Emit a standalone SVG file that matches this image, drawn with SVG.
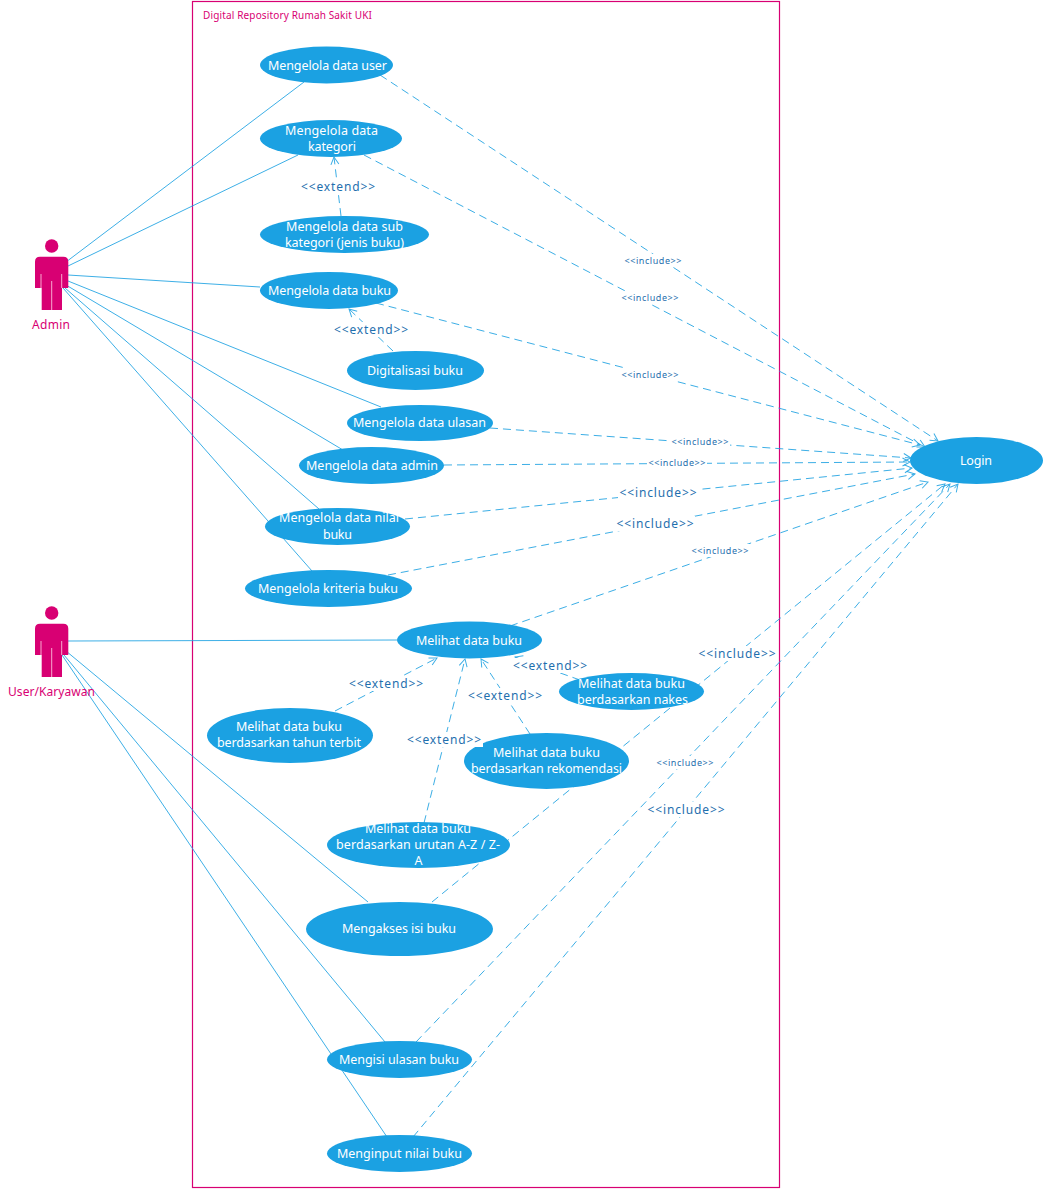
<svg xmlns="http://www.w3.org/2000/svg" width="1045" height="1189" viewBox="0 0 1045 1189">
<style>
text{font-family:"Noto Sans","Open Sans","Liberation Sans",sans-serif}
.b{fill:none;stroke:#d80073;stroke-width:1.2}
.t{font-size:10px;fill:#d80073}
.al{font-size:12px;fill:#d80073;text-anchor:middle}
.a{fill:#d80073;stroke:none}
.g{stroke:#f7a8cf;stroke-width:1;fill:none}
.u{fill:#1ba1e2;stroke:none}
.ut{font-size:12.5px;fill:#fff;text-anchor:middle}
.s{stroke:#1ba1e2;stroke-width:1;fill:none;opacity:.85}
.d{stroke:#1ba1e2;stroke-width:1;fill:none;stroke-dasharray:8 5;opacity:.85;marker-end:url(#o)}
.bg{fill:#fff}
.l{font-size:12px;fill:#1f6fae;text-anchor:middle}
.m{font-size:9px;fill:#1f6fae;text-anchor:middle}
</style>
<defs>
<marker id="o" markerUnits="userSpaceOnUse" markerWidth="14" markerHeight="14" refX="12" refY="7" orient="auto"><path d="M4.5 3L12 7L4.5 11" fill="none" stroke="#1ba1e2" stroke-width="1"/></marker>
<path id="actor" d="M40 -8.3H63.3Q68.3 -8.3 68.3 -3.3V23H62V45H41.7V23H35V-3.3Q35 -8.3 40 -8.3Z"/>
<path id="actor-lines" d="M41 9V23M61.7 9V23M51.7 16V45"/>
</defs>
<rect id="boundary" class="b" x="192.5" y="1.5" width="587" height="1186"/>
<text class="t" x="203" y="19" textLength="169">Digital Repository Rumah Sakit UKI</text>
<g id="connectors">
<path class="s" d="M66 262L304 82"/>
<path class="s" d="M68 266L298 155"/>
<path class="s" d="M68 275L260 287"/>
<path class="s" d="M68 281L381 407"/>
<path class="s" d="M66 285L343 450"/>
<path class="s" d="M65 288L319 509"/>
<path class="s" d="M63 288L312 571"/>
<path class="s" d="M68 641L397 640"/>
<path class="s" d="M66 651L368 902"/>
<path class="s" d="M64 655L385 1042"/>
<path class="s" d="M62 655L387 1137"/>
<path class="d" d="M380 75L938 441"/>
<path class="d" d="M364 155L925 447"/>
<path class="d" d="M376 303L920 445"/>
<path class="d" d="M490 428L911 458"/>
<path class="d" d="M444 465L910 462"/>
<path class="d" d="M405 519L912 468"/>
<path class="d" d="M388 575L915 474"/>
<path class="d" d="M510 626L928 482"/>
<path class="d" d="M432 902L945 484"/>
<path class="d" d="M416 1042L950 484"/>
<path class="d" d="M413 1137L958 484"/>
<path class="d" d="M341 216L334 157"/>
<path class="d" d="M393 351L349 309"/>
<path class="d" d="M335 711L437 658"/>
<path class="d" d="M424 823L465 659"/>
<path class="d" d="M530 734L481 659"/>
<path class="d" d="M580 680L515 657"/>
</g>
<g id="actor-admin"><circle class="a" cx="51.7" cy="246" r="6.7"/><use href="#actor" class="a" y="265"/><use href="#actor-lines" class="g" y="265"/><text class="al" x="51" y="329" textLength="38">Admin</text></g>
<g id="actor-user"><circle class="a" cx="51.7" cy="613" r="6.7"/><use href="#actor" class="a" y="632"/><use href="#actor-lines" class="g" y="632"/><text class="al" x="51.5" y="696" textLength="87">User/Karyawan</text></g>
<g id="uc-user"><ellipse class="u" cx="326.5" cy="65" rx="66.5" ry="18.5"/><text class="ut" x="327.5" y="69.5" textLength="119">Mengelola data user</text></g>
<g id="uc-kategori"><ellipse class="u" cx="331" cy="138.5" rx="71" ry="18.5"/><text class="ut" x="331.5" y="135" textLength="93">Mengelola data</text><text class="ut" x="332" y="151" textLength="48">kategori</text></g>
<g id="uc-sub"><ellipse class="u" cx="344.5" cy="234.5" rx="84.5" ry="18.5"/><text class="ut" x="344.5" y="231" textLength="117">Mengelola data sub</text><text class="ut" x="344.5" y="247" textLength="119">kategori (jenis buku)</text></g>
<g id="uc-buku"><ellipse class="u" cx="329" cy="290.5" rx="69" ry="18.5"/><text class="ut" x="329.5" y="295" textLength="123">Mengelola data buku</text></g>
<g id="uc-digital"><ellipse class="u" cx="415.5" cy="370.5" rx="68.5" ry="19.5"/><text class="ut" x="415" y="375" textLength="96">Digitalisasi buku</text></g>
<g id="uc-ulasan"><ellipse class="u" cx="420" cy="423" rx="73" ry="18"/><text class="ut" x="419.5" y="427" textLength="133">Mengelola data ulasan</text></g>
<g id="uc-admin"><ellipse class="u" cx="371.5" cy="465.5" rx="72.5" ry="18.5"/><text class="ut" x="372" y="470" textLength="132">Mengelola data admin</text></g>
<g id="uc-nilai"><ellipse class="u" cx="337.5" cy="526.5" rx="72.5" ry="18.5"/><text class="ut" x="339" y="522" textLength="120">Mengelola data nilai</text><text class="ut" x="337.5" y="539" textLength="29">buku</text></g>
<g id="uc-kriteria"><ellipse class="u" cx="328.5" cy="588.5" rx="83.5" ry="18.5"/><text class="ut" x="328" y="593" textLength="140">Mengelola kriteria buku</text></g>
<g id="uc-melihat"><ellipse class="u" cx="469.5" cy="640" rx="72.5" ry="18.5"/><text class="ut" x="469" y="644.5" textLength="106">Melihat data buku</text></g>
<g id="uc-nakes"><ellipse class="u" cx="631.5" cy="691.5" rx="72.5" ry="18.5"/><text class="ut" x="631.5" y="688" textLength="107">Melihat data buku</text><text class="ut" x="632.5" y="704" textLength="111">berdasarkan nakes</text></g>
<g id="uc-tahun"><ellipse class="u" cx="290" cy="735.5" rx="83" ry="27.5"/><text class="ut" x="289" y="731" textLength="106">Melihat data buku</text><text class="ut" x="289" y="747" textLength="144">berdasarkan tahun terbit</text></g>
<g id="uc-rekomendasi"><ellipse class="u" cx="546.5" cy="761" rx="82.5" ry="28"/><text class="ut" x="546.5" y="757" textLength="107">Melihat data buku</text><text class="ut" x="546.5" y="773" textLength="151">berdasarkan rekomendasi</text></g>
<g id="uc-az"><ellipse class="u" cx="418.5" cy="845" rx="91.5" ry="23"/><text class="ut" x="418" y="833" textLength="106">Melihat data buku</text><text class="ut" x="418" y="849" textLength="164">berdasarkan urutan A-Z / Z-</text><text class="ut" x="418.5" y="865" textLength="9">A</text></g>
<g id="uc-akses"><ellipse class="u" cx="399.5" cy="929" rx="93.5" ry="27"/><text class="ut" x="399" y="933" textLength="114">Mengakses isi buku</text></g>
<g id="uc-isi"><ellipse class="u" cx="399.5" cy="1059.5" rx="72.5" ry="18.5"/><text class="ut" x="399" y="1064" textLength="120">Mengisi ulasan buku</text></g>
<g id="uc-input"><ellipse class="u" cx="399.5" cy="1153.5" rx="72.5" ry="18.5"/><text class="ut" x="399.5" y="1158" textLength="125">Menginput nilai buku</text></g>
<g id="uc-login"><ellipse class="u" cx="976.5" cy="460.5" rx="66.5" ry="23.5"/><text class="ut" x="976" y="465" textLength="32">Login</text></g>
<g id="labels">
<rect class="bg" x="623" y="254" width="60" height="13"/><text class="m" x="653" y="264" textLength="57">&lt;&lt;include&gt;&gt;</text>
<rect class="bg" x="620" y="291" width="60" height="13"/><text class="m" x="650" y="301" textLength="57">&lt;&lt;include&gt;&gt;</text>
<rect class="bg" x="620" y="368" width="60" height="13"/><text class="m" x="650" y="378" textLength="57">&lt;&lt;include&gt;&gt;</text>
<rect class="bg" x="670" y="435" width="60" height="13"/><text class="m" x="700" y="445" textLength="57">&lt;&lt;include&gt;&gt;</text>
<rect class="bg" x="647" y="456" width="60" height="13"/><text class="m" x="677" y="466" textLength="57">&lt;&lt;include&gt;&gt;</text>
<rect class="bg" x="690" y="544" width="60" height="13"/><text class="m" x="720" y="554" textLength="57">&lt;&lt;include&gt;&gt;</text>
<rect class="bg" x="655" y="756" width="60" height="13"/><text class="m" x="685" y="766" textLength="57">&lt;&lt;include&gt;&gt;</text>
<rect class="bg" x="618" y="485" width="80" height="15"/><text class="l" x="658" y="497" textLength="77">&lt;&lt;include&gt;&gt;</text>
<rect class="bg" x="615" y="516" width="80" height="15"/><text class="l" x="655" y="528" textLength="77">&lt;&lt;include&gt;&gt;</text>
<rect class="bg" x="697" y="646" width="80" height="15"/><text class="l" x="737" y="658" textLength="77">&lt;&lt;include&gt;&gt;</text>
<rect class="bg" x="646" y="802" width="80" height="15"/><text class="l" x="686" y="814" textLength="77">&lt;&lt;include&gt;&gt;</text>
<rect class="bg" x="300" y="179" width="76" height="15"/><text class="l" x="338" y="191" textLength="74">&lt;&lt;extend&gt;&gt;</text>
<rect class="bg" x="333" y="322" width="76" height="15"/><text class="l" x="371" y="334" textLength="74">&lt;&lt;extend&gt;&gt;</text>
<rect class="bg" x="348" y="676" width="76" height="15"/><text class="l" x="386" y="688" textLength="74">&lt;&lt;extend&gt;&gt;</text>
<rect class="bg" x="406" y="732" width="77" height="15"/><text class="l" x="444" y="744" textLength="74">&lt;&lt;extend&gt;&gt;</text>
<rect class="bg" x="467" y="688" width="76" height="15"/><text class="l" x="505" y="700" textLength="74">&lt;&lt;extend&gt;&gt;</text>
<rect class="bg" x="512" y="658" width="76" height="15"/><text class="l" x="550" y="670" textLength="74">&lt;&lt;extend&gt;&gt;</text>
</g>
</svg>
